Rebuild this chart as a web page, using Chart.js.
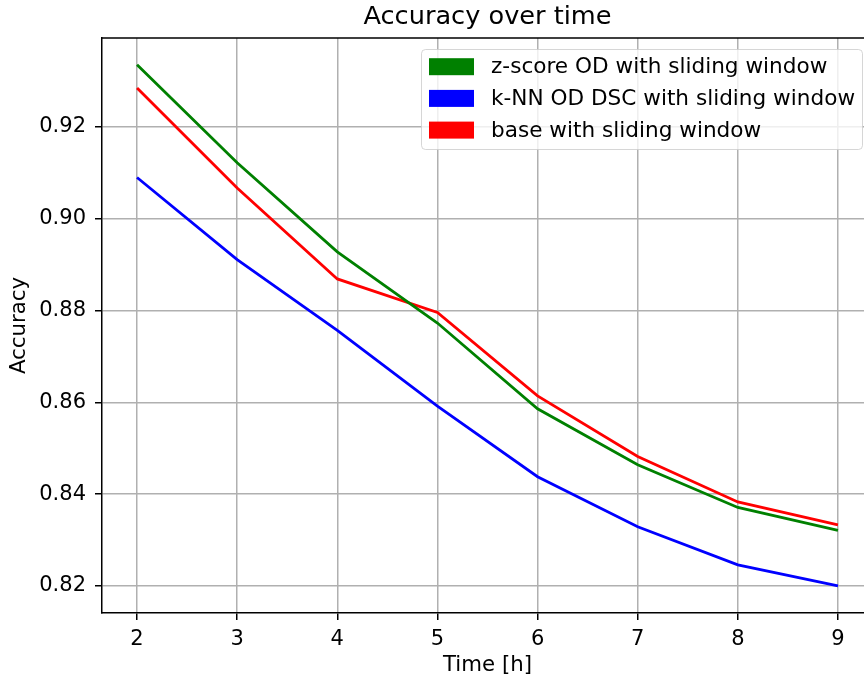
<!DOCTYPE html>
<html>
<head>
<meta charset="utf-8">
<script src="https://cdn.jsdelivr.net/npm/chart.js@4"></script>
<style>
  html, body { margin: 0; padding: 0; background: #fff; overflow: hidden; }
  #wrap { width: 975px; height: 682px; }
</style>
</head>
<body>
<div id="wrap"><canvas id="accChart" width="975" height="682"></canvas></div>
<script>
// dados
const horas = [2, 3, 4, 5, 6, 7, 8, 9];
const zscoreOD = [0.9336, 0.9122, 0.8928, 0.8773, 0.8586, 0.8464, 0.8371, 0.8321];
const knnOD = [0.9090, 0.8911, 0.8757, 0.8592, 0.8438, 0.8329, 0.8246, 0.8200];
const baseSW = [0.9285, 0.9067, 0.8869, 0.8796, 0.8614, 0.8482, 0.8383, 0.8333];
const nomes = ["z-score OD with sliding window", "k-NN OD DSC with sliding window", "base with sliding window"];
const cores = ["#008000", "#0000ff", "#ff0000"];
const yTicks = [0.82, 0.84, 0.86, 0.88, 0.90, 0.92];

const FONTE = "'DejaVu Sans', sans-serif";
Chart.defaults.font.family = FONTE;
Chart.defaults.color = "#000";

const pts = arr => arr.map((v, i) => ({ x: horas[i], y: v }));

// moldura superior/direita e legenda estilo matplotlib
const extras = {
    id: "extras",
    afterDraw(chart) {
        const { ctx, chartArea: a } = chart;
        ctx.save();
        ctx.strokeStyle = "#000";
        ctx.lineWidth = 1.5;
        ctx.beginPath();
        ctx.moveTo(a.left, a.top);
        ctx.lineTo(a.right, a.top);
        ctx.lineTo(a.right, a.bottom);
        ctx.stroke();

        // legenda
        const x0 = 421, y0 = 49, w = 441, h = 100;
        ctx.fillStyle = "rgba(255,255,255,0.8)";
        ctx.strokeStyle = "rgba(204,204,204,0.8)";
        ctx.lineWidth = 1;
        ctx.beginPath();
        ctx.roundRect(x0 + 0.5, y0 + 0.5, w, h, 4);
        ctx.fill();
        ctx.stroke();
        ctx.font = "21.6px " + FONTE;
        ctx.textBaseline = "middle";
        chart.data.datasets.forEach((ds, i) => {
            const cy = 66.7 + i * 31.7;
            ctx.fillStyle = ds.borderColor;
            ctx.fillRect(429, cy - 8.5, 45, 17);
            ctx.fillStyle = "#000";
            ctx.fillText(ds.label, 491, cy + 1);
        });
        ctx.restore();
    }
};

new Chart(document.getElementById("accChart"), {
    type: "line",
    data: {
        datasets: [
            { label: nomes[0], data: pts(zscoreOD), borderColor: cores[0], backgroundColor: cores[0] },
            { label: nomes[1], data: pts(knnOD), borderColor: cores[1], backgroundColor: cores[1] },
            { label: nomes[2], data: pts(baseSW), borderColor: cores[2], backgroundColor: cores[2] }
        ].map(d => Object.assign(d, { borderWidth: 2.8, pointRadius: 0, tension: 0, fill: false }))
    },
    options: {
        responsive: false,
        animation: false,
        layout: { padding: { left: 0, right: 102, top: 0, bottom: 0 } },
        plugins: {
            legend: { display: false },
            tooltip: { enabled: false },
            title: {
                display: true,
                fullSize: false,
                text: "Accuracy over time",
                font: { size: 25.6, weight: "normal" },
                color: "#000",
                padding: { top: 1.6, bottom: 5.7 }
            }
        },
        scales: {
            x: {
                type: "linear",
                min: 1.65, max: 9.35,
                afterBuildTicks: s => { s.ticks = horas.map(v => ({ value: v })); },
                ticks: { font: { size: 21 }, padding: 7, maxRotation: 0, callback: v => String(v) },
                grid: { color: "#b0b0b0", lineWidth: 1.5, tickColor: "#000", tickLength: 7, tickWidth: 1.5 },
                border: { color: "#000", width: 1.5 },
                title: { display: true, text: "Time [h]", font: { size: 21.3 }, padding: { top: 0, bottom: 4 } },
                afterFit: s => { s.height = 69; }
            },
            y: {
                min: 0.8141, max: 0.9394,
                afterBuildTicks: s => { s.ticks = yTicks.map(v => ({ value: v })); },
                ticks: { font: { size: 21 }, padding: 9, callback: v => v.toFixed(2) },
                grid: { color: "#b0b0b0", lineWidth: 1.5, tickColor: "#000", tickLength: 7, tickWidth: 1.5 },
                border: { color: "#000", width: 1.5 },
                title: { display: true, text: "Accuracy", font: { size: 21.3 }, padding: { top: 7, bottom: 0 } },
                afterFit: s => { s.width = 102; }
            }
        }
    },
    plugins: [extras]
});
</script>
</body>
</html>
